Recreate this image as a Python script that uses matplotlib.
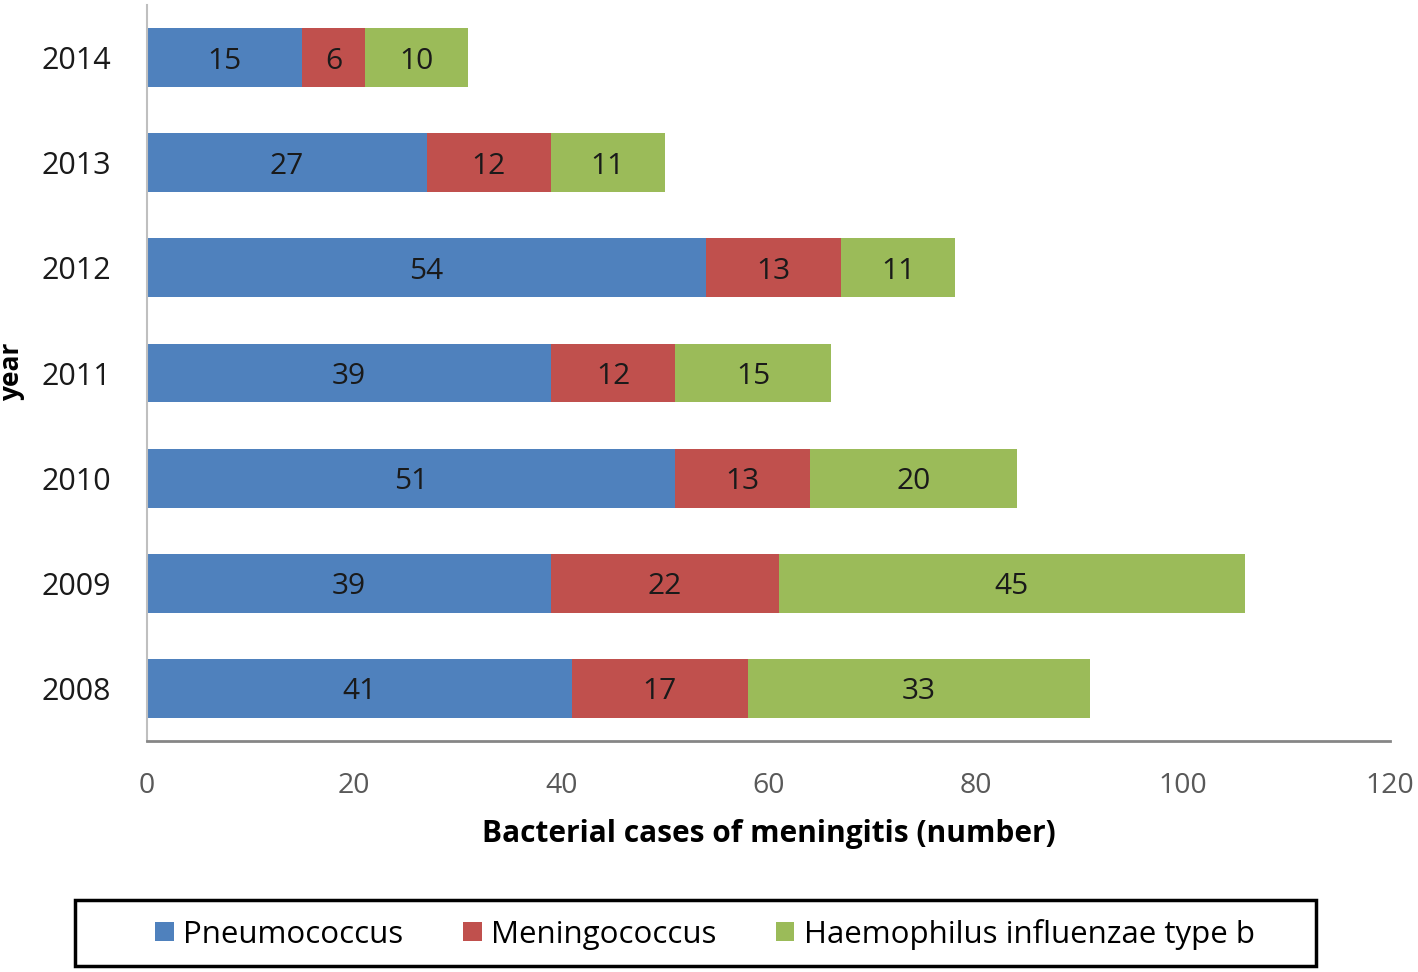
import matplotlib.pyplot as plt
from matplotlib.patches import Rectangle

plt.rcParams['font.family'] = ['Open Sans', 'DejaVu Sans']

years = ['2008', '2009', '2010', '2011', '2012', '2013', '2014']
pneumococcus = [41, 39, 51, 39, 54, 27, 15]
meningococcus = [17, 22, 13, 12, 13, 12, 6]
haemophilus = [33, 45, 20, 15, 11, 11, 10]
series_names = ['Pneumococcus', 'Meningococcus', 'Haemophilus influenzae type b']
colors = ['#4F81BD', '#C0504D', '#9BBB59']

fig = plt.figure(figsize=(14.18, 9.72), dpi=100)
ax = fig.add_axes([147 / 1418, 1 - 741 / 972, (1390 - 147) / 1418, (741 - 5) / 972])

ypos = range(len(years))
left = [0] * len(years)
handles = []
for vals, name, col in zip([pneumococcus, meningococcus, haemophilus], series_names, colors):
    bars = ax.barh(ypos, vals, left=left, height=0.56, color=col, label=name)
    labels = ax.bar_label(bars, label_type='center', fontsize=21.5, color='#1a1a1a')
    for t in labels:
        t.set_va('center_baseline')
    handles.append(bars)
    left = [l + v for l, v in zip(left, vals)]

ax.set_xlim(0, 120)
ax.set_ylim(-0.5, 6.5)
ax.set_xticks(range(0, 121, 20))
ax.set_yticks(list(ypos))
ax.set_yticklabels(years)
ax.tick_params(axis='x', length=0, pad=22, labelsize=20.5, labelcolor='#595959')
ax.tick_params(axis='y', length=0, pad=26, labelsize=22, labelcolor='#1a1a1a')

for side in ['top', 'right']:
    ax.spines[side].set_visible(False)
ax.spines['left'].set_color('#BFBFBF')
ax.spines['left'].set_linewidth(1.5)
ax.spines['bottom'].set_color('#868686')
ax.spines['bottom'].set_linewidth(2)

ax.set_xlabel('Bacterial cases of meningitis (number)', fontsize=21.5, fontweight='bold',
              labelpad=14)
fig.text(12 / 1418, 1 - 372 / 972, 'year', rotation=90, fontsize=19, fontweight='bold',
         ha='center', va='center')

# legend box drawn separately to match the reference frame
fig.patches.append(Rectangle((75 / 1418, 1 - 966 / 972), (1316 - 75) / 1418, 66 / 972,
                             transform=fig.transFigure, fill=False, edgecolor='black',
                             linewidth=2.5))
fig.legend(handles=handles, labels=series_names, loc='center',
           bbox_to_anchor=(705 / 1418, 1 - 934 / 972), ncol=3, frameon=False,
           fontsize=22.5, handlelength=0.6, handleheight=0.6, handletextpad=0.3,
           columnspacing=1.9)

fig.savefig('out.png', dpi=100)
